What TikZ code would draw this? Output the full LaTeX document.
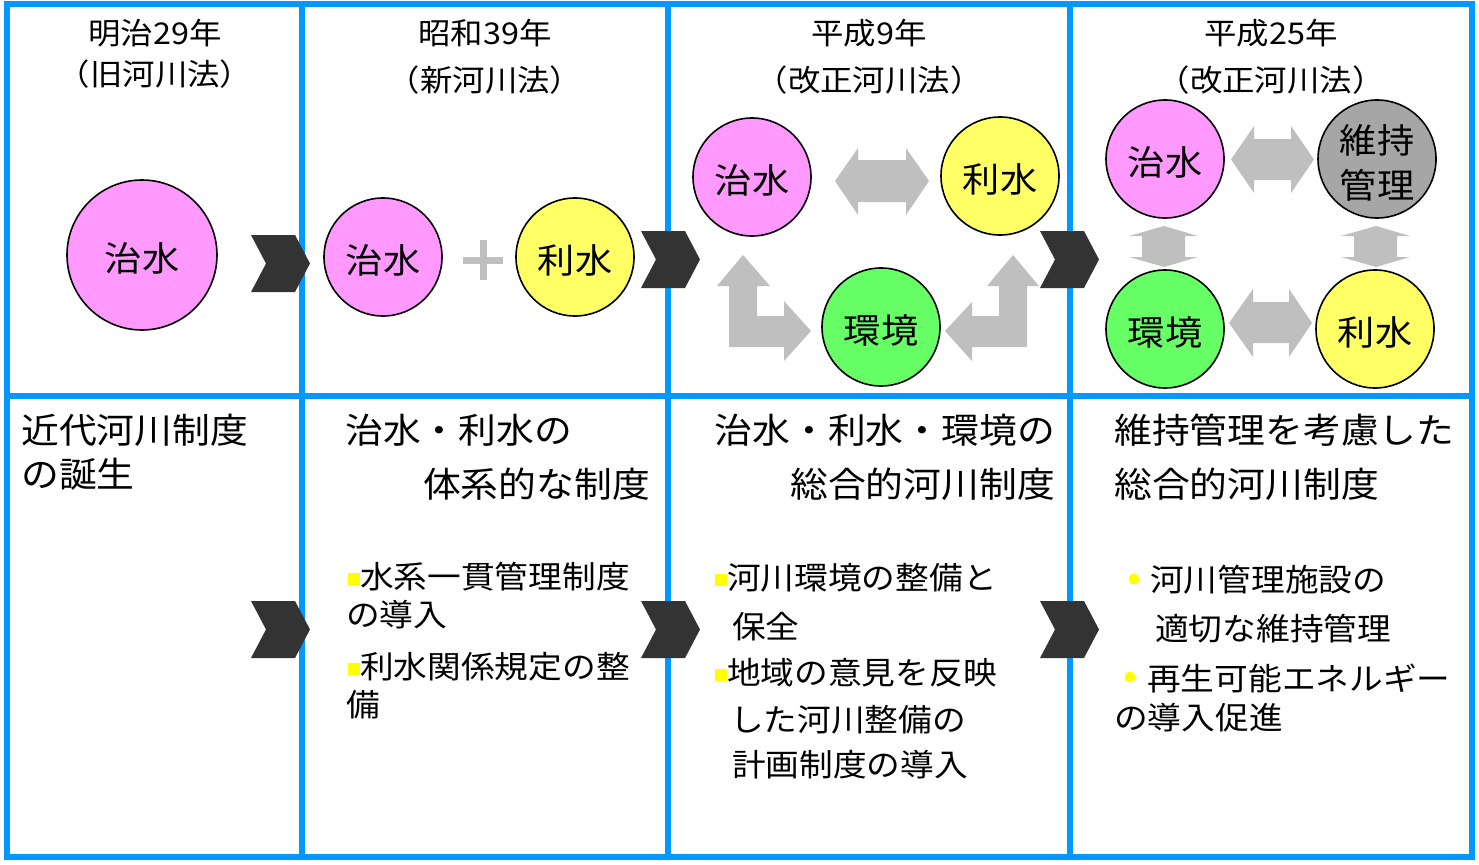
\documentclass[tikz,border=0pt]{standalone}
\usepackage{fontspec}
\newfontfamily\jp[FakeStretch=1.08]{Noto Sans CJK JP}
\definecolor{gridblue}{RGB}{0,153,255}
\definecolor{chevgray}{RGB}{51,51,51}
\definecolor{arrowgray}{RGB}{191,191,191}
\definecolor{pinkfill}{RGB}{255,153,255}
\definecolor{yellowfill}{RGB}{255,255,102}
\definecolor{greenfill}{RGB}{102,255,102}
\definecolor{mgrayfill}{RGB}{166,166,166}
\definecolor{bulletyellow}{RGB}{255,255,0}
\newcommand{\bsq}{\textcolor{bulletyellow}{\rule[3.5pt]{12pt}{12pt}}}
\begin{document}
\begin{tikzpicture}[x=1pt,y=-1pt,
  gridline/.style={draw=gridblue,line width=6pt},
  circ/.style={circle,draw=black,line width=1.6pt,minimum size=118pt,inner sep=0pt,
    font=\jp\fontsize{34.5}{45}\selectfont,text height=32.2pt,text depth=0pt},
  clabel/.style={inner sep=0pt,align=center,font=\jp\fontsize{34.5}{45}\selectfont},
  chev/.style={fill=chevgray},
  garrow/.style={fill=arrowgray},
  title/.style={inner sep=0pt,font=\jp\fontsize{30}{36}\selectfont},
  head/.style={inner sep=0pt,font=\jp\fontsize{35}{42}\selectfont},
  btxt/.style={inner sep=0pt,anchor=west,font=\jp\fontsize{31.2}{36}\selectfont},
  dotb/.style={circle,fill=bulletyellow,inner sep=0pt,minimum size=11pt}
]
\useasboundingbox (0,0) rectangle (1479,864);
\fill[white] (0,0) rectangle (1479,864);
% grid
\draw[gridline] (7,4) rectangle (1472,857);
\draw[gridline] (302,4) -- (302,857);
\draw[gridline] (668,4) -- (668,857);
\draw[gridline] (1070,4) -- (1070,857);
\draw[gridline] (7,396) -- (1472,396);
% titles
\node[title] (t1a) at (155,33) {明治29年};
\node[title] (t1b) at (155,74) {（旧河川法）};
\node[title] (t2a) at (485,33) {昭和39年};
\node[title] (t2b) at (485,80) {（新河川法）};
\node[title] (t3a) at (869,33) {平成9年};
\node[title] (t3b) at (869,80) {（改正河川法）};
\node[title] (t4a) at (1271,33) {平成25年};
\node[title] (t4b) at (1271,80) {（改正河川法）};
% panel 1
\node[circ,fill=pinkfill,minimum size=150pt] (c1) at (142,255) {治水};
% panel 2
\node[circ,fill=pinkfill] (c2a) at (383,257) {治水};
\node[circ,fill=yellowfill] (c2b) at (575,257) {利水};
\draw[draw=arrowgray,line width=7pt] (463,260) -- (503,260) (483,240) -- (483,280);
% panel 3
\node[circ,fill=pinkfill] (c3a) at (752,177) {治水};
\node[circ,fill=yellowfill] (c3b) at (1000,176) {利水};
\node[circ,fill=greenfill] (c3c) at (881,327) {環境};
\fill[garrow] (835,181) -- (858,148) -- (858,160) -- (906,160) -- (906,148) -- (929,181)
  -- (906,215) -- (906,202) -- (858,202) -- (858,215) -- cycle;
\fill[garrow] (743,255) -- (770,286) -- (757,286) -- (757,316) -- (784,316) -- (784,301)
  -- (811,331) -- (784,361) -- (784,347) -- (729,347) -- (729,286) -- (717,286) -- cycle;
\fill[garrow] (1013,255) -- (1039,286) -- (1027,286) -- (1027,347) -- (972,347) -- (972,361)
  -- (945,331) -- (972,302) -- (972,316) -- (999,316) -- (999,286) -- (987,286) -- cycle;
% panel 4
\node[circ,fill=pinkfill] (c4a) at (1165,159) {治水};
\node[circ,fill=mgrayfill] (c4b) at (1377,159) {};
\node[clabel] (c4bl) at (1377,162.5) {維持\\管理};
\node[circ,fill=greenfill] (c4c) at (1165,329) {環境};
\node[circ,fill=yellowfill] (c4d) at (1375,329) {利水};
\fill[garrow] (1231,159.5) -- (1254,126) -- (1254,139) -- (1291,139) -- (1291,126) -- (1314,159.5)
  -- (1291,193) -- (1291,180) -- (1254,180) -- (1254,193) -- cycle;
\fill[garrow] (1229,323) -- (1253,289) -- (1253,302) -- (1289,302) -- (1289,289) -- (1312,323)
  -- (1289,357) -- (1289,343) -- (1253,343) -- (1253,357) -- cycle;
\fill[garrow] (1164,226) -- (1198,236) -- (1185,236) -- (1185,257) -- (1198,257) -- (1164,267)
  -- (1129,257) -- (1142,257) -- (1142,236) -- (1129,236) -- cycle;
\fill[garrow] (1376,226) -- (1410,236) -- (1397,236) -- (1397,257) -- (1410,257) -- (1376,267)
  -- (1341,257) -- (1354,257) -- (1354,236) -- (1341,236) -- cycle;
% chevrons
\foreach \cx/\cy in {251/235, 641/231, 1040/231, 251/601, 641/601, 1040/601}{
  \fill[chev,shift={(\cx,\cy)}] (0,0) -- (44,0) -- (59,28.5) -- (44,57) -- (0,57) -- (15,28.5) -- cycle;
}
% headers
\node[head,anchor=west] (h1a) at (21,430) {近代河川制度};
\node[head,anchor=west] (h1b) at (21,474) {の誕生};
\node[head,anchor=west] (h2a) at (345,430) {治水・利水の};
\node[head,anchor=east] (h2b) at (650,484) {体系的な制度};
\node[head,anchor=east] (h3a) at (1055,430) {治水・利水・環境の};
\node[head,anchor=east] (h3b) at (1055,484) {総合的河川制度};
\node[head,anchor=west] (h4a) at (1114,430) {維持管理を考慮した};
\node[head,anchor=west] (h4b) at (1114,484) {総合的河川制度};
% panel 2 bullets
\node[btxt] (b2a) at (348,577) {\bsq 水系一貫管理制度};
\node[btxt] (b2b) at (346,615) {の導入};
\node[btxt] (b2c) at (348,667) {\bsq 利水関係規定の整};
\node[btxt] (b2d) at (346,705) {備};
% panel 3 bullets
\node[btxt] (b3a) at (715,578) {\bsq 河川環境の整備と};
\node[btxt] (b3b) at (732,627) {保全};
\node[btxt] (b3c) at (715,673) {\bsq 地域の意見を反映};
\node[btxt] (b3d) at (730,720) {した河川整備の};
\node[btxt] (b3e) at (732,765) {計画制度の導入};
% panel 4 bullets
\node[dotb] (d4a) at (1134,579) {};
\node[btxt] (b4a) at (1150,580) {河川管理施設の};
\node[btxt] (b4b) at (1155,629) {適切な維持管理};
\node[dotb] (d4b) at (1130,677) {};
\node[btxt] (b4c) at (1147,678) {再生可能エネルギー};
\node[btxt] (b4d) at (1114,718) {の導入促進};
\end{tikzpicture}
\end{document}
